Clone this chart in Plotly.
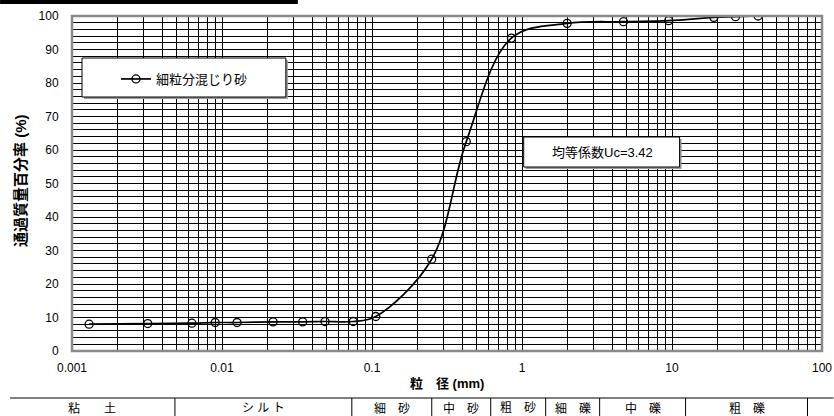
import numpy as np
import plotly.graph_objects as go

# ---- data ----
series_name = "細粒分混じり砂"
grain_size_mm = [0.0013, 0.0032, 0.0063, 0.009, 0.0126, 0.0219, 0.0345, 0.0486, 0.075, 0.106,
                 0.25, 0.425, 0.85, 2.0, 4.75, 9.5, 19.0, 26.5, 37.5]
passing_pct = [8.0, 8.2, 8.3, 8.5, 8.5, 8.7, 8.7, 8.8, 8.8, 10.3,
               27.4, 62.5, 93.4, 97.8, 98.3, 98.6, 99.6, 99.8, 100.0]
uc_text = "均等係数Uc=3.42"
x_title = "粒　径 (mm)"
y_title = "通過質量百分率 (%)"
decade_labels = {0.001: "0.001", 0.01: "0.01", 0.1: "0.1", 1: "1", 10: "10", 100: "100"}
soil_classes = ["粘　　土", "シ ル ト", "細　砂", "中　砂", "粗　砂", "細　礫", "中　礫", "粗　礫"]
class_edges_px = [10, 175, 352, 432, 491, 546, 600, 686, 808]

W, H = 834, 416
L, R, T, B = 72, 834 - 822.5, 16, 416 - 351
pw, ph = W - L - R, H - T - B

def px2x(p):
    return (p - L) / pw

def px2y(p):
    return (H - B - p) / ph

FONT = "Liberation Sans, Arial, Noto Sans CJK JP, sans-serif"

# x grid values
xvals, xtext = [], []
for e in range(-3, 2):
    for m in range(1, 10):
        v = round(m * 10 ** e, 6)
        xvals.append(v)
        xtext.append(decade_labels.get(v, ""))
xvals.append(100)
xtext.append("100")
yvals = list(range(0, 101, 2))
ytext = [str(v) if v % 10 == 0 else "" for v in yvals]

fig = go.Figure()
fig.add_trace(go.Scatter(
    x=grain_size_mm, y=passing_pct, mode="lines+markers", name=series_name,
    line=dict(color="black", width=1.7, shape="spline", smoothing=1.0),
    marker=dict(symbol="circle-open", size=8, color="black", line=dict(width=1.3)),
))

shapes = []
# plot border
shapes.append(dict(type="rect", xref="paper", yref="paper", x0=0, x1=1, y0=0, y1=1,
                   line=dict(color="#8a8a8a", width=2.5), layer="above"))
# top black bar
shapes.append(dict(type="rect", xref="paper", yref="paper", x0=px2x(0), x1=px2x(298),
                   y0=px2y(4), y1=px2y(0), line=dict(width=0), fillcolor="black"))
# legend box with shadow
shapes.append(dict(type="rect", xref="paper", yref="paper", x0=px2x(84), x1=px2x(288),
                   y0=px2y(99), y1=px2y(60), line=dict(width=0), fillcolor="#9a9a9a", layer="above"))
shapes.append(dict(type="rect", xref="paper", yref="paper", x0=px2x(82), x1=px2x(286),
                   y0=px2y(97), y1=px2y(58), line=dict(color="black", width=1), fillcolor="white", layer="above"))
# Uc box
shapes.append(dict(type="rect", xref="paper", yref="paper", x0=px2x(526), x1=px2x(682),
                   y0=px2y(169), y1=px2y(139), line=dict(width=0), fillcolor="#9a9a9a", layer="above"))
shapes.append(dict(type="rect", xref="paper", yref="paper", x0=px2x(524), x1=px2x(680),
                   y0=px2y(167), y1=px2y(137), line=dict(color="black", width=1), fillcolor="white", layer="above"))
# table
shapes.append(dict(type="line", xref="paper", yref="paper", x0=px2x(10), x1=px2x(834),
                   y0=px2y(398), y1=px2y(398), line=dict(color="black", width=1)))
for p in class_edges_px[1:]:
    shapes.append(dict(type="line", xref="paper", yref="paper", x0=px2x(p), x1=px2x(p),
                       y0=px2y(398), y1=px2y(416), line=dict(color="black", width=1)))

annotations = []
annotations.append(dict(xref="paper", yref="paper", x=px2x(603), y=px2y(152), text=uc_text,
                        showarrow=False, font=dict(family=FONT, size=13, color="black"),
                        xanchor="center", yanchor="middle"))
annotations.append(dict(xref="paper", yref="paper", x=0.5, y=px2y(383), text="<b>" + x_title + "</b>",
                        showarrow=False, font=dict(family=FONT, size=13, color="black"),
                        xanchor="center", yanchor="middle"))
annotations.append(dict(xref="paper", yref="paper", x=px2x(20), y=px2y(181), text="<b>" + y_title + "</b>",
                        showarrow=False, textangle=-90, font=dict(family=FONT, size=15, color="black"),
                        xanchor="center", yanchor="middle"))
for i, name in enumerate(soil_classes):
    cx = (class_edges_px[i] + class_edges_px[i + 1]) / 2
    annotations.append(dict(xref="paper", yref="paper", x=px2x(cx), y=px2y(408), text=name,
                            showarrow=False, font=dict(family=FONT, size=12, color="black"),
                            xanchor="center", yanchor="middle"))

fig.update_layout(
    width=W, height=H,
    margin=dict(l=L, r=R, t=T, b=B, pad=0, autoexpand=False),
    paper_bgcolor="white", plot_bgcolor="white",
    font=dict(family=FONT, size=12, color="black"),
    showlegend=True,
    legend=dict(x=px2x(116), y=px2y(79), xanchor="left", yanchor="middle",
                bgcolor="rgba(0,0,0,0)", borderwidth=0,
                font=dict(family=FONT, size=13, color="black")),
    shapes=shapes, annotations=annotations,
    xaxis=dict(type="log", range=[-3, 2], tickmode="array", tickvals=xvals, ticktext=xtext,
               showgrid=True, gridcolor="black", gridwidth=1, zeroline=False, automargin=False,
               ticks="outside", ticklen=6, tickcolor="rgba(0,0,0,0)", showline=False,
               tickfont=dict(family=FONT, size=12, color="black")),
    yaxis=dict(range=[0, 100], tickmode="array", tickvals=yvals, ticktext=ytext,
               showgrid=True, gridcolor="black", gridwidth=1, zeroline=False, automargin=False,
               ticks="outside", ticklen=10, tickcolor="rgba(0,0,0,0)", showline=False,
               tickfont=dict(family=FONT, size=12, color="black")),
)

fig.write_html("out.html", config={"displayModeBar": False},
               post_script="document.body.style.margin='0px';document.body.style.overflow='hidden';")
